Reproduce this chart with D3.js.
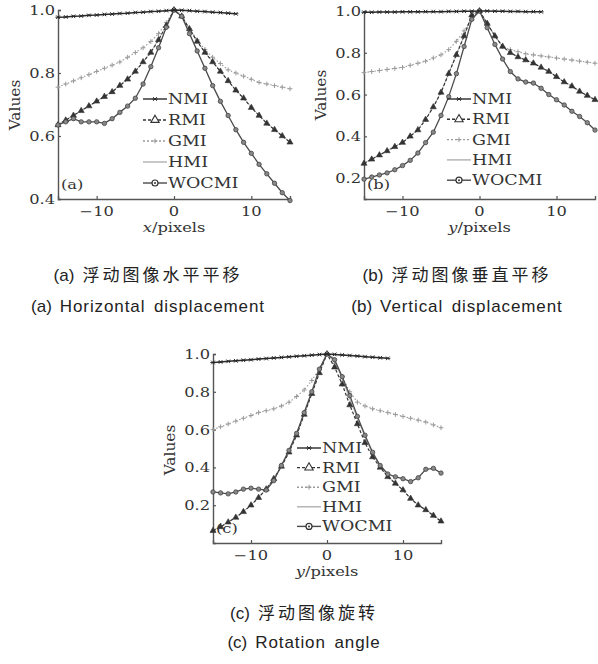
<!DOCTYPE html>
<html><head><meta charset="utf-8">
<script src="https://cdn.jsdelivr.net/npm/d3@7"></script>
<style>
html,body{margin:0;padding:0;background:#fff;}
svg text{font-family:"DejaVu Serif","Liberation Serif",serif;fill:#333;}
svg text.cap{font-family:"Liberation Sans","Noto Sans CJK SC",sans-serif;fill:#222;}
</style></head>
<body>
<svg id="chart" width="598" height="664"></svg>
<script>
// ---------- data ----------
const xValues = d3.range(-15, 16);          // -15 .. 15
const xValuesNMI = d3.range(-15, 9);        // NMI curves stop at 8
const seriesNames = ["NMI", "RMI", "GMI", "HMI", "WOCMI"];
const xTicks = [-10, 0, 10];

// (a) horizontal displacement
const aNMI = [0.977,0.978,0.98,0.981,0.983,0.984,0.986,0.987,0.989,0.99,0.992,0.993,0.995,0.996,0.998,1.0,
              0.999,0.998,0.996,0.995,0.993,0.992,0.99,0.988];
const aRMI = [0.635,0.65,0.665,0.68,0.695,0.71,0.725,0.74,0.76,0.78,0.805,0.835,0.865,0.905,0.95,1.0,
              0.98,0.94,0.9,0.865,0.835,0.805,0.775,0.745,0.72,0.69,0.665,0.64,0.62,0.6,0.58];
const aGMI = [0.755,0.765,0.775,0.785,0.795,0.805,0.815,0.825,0.835,0.85,0.865,0.88,0.9,0.925,0.96,1.0,
              0.98,0.94,0.905,0.875,0.85,0.83,0.81,0.8,0.79,0.78,0.77,0.765,0.76,0.755,0.75];
const aHMI = [0.637,0.652,0.666,0.681,0.696,0.711,0.726,0.742,0.761,0.782,0.806,0.836,0.867,0.906,0.951,1.0,
              0.981,0.941,0.901,0.866,0.836,0.806,0.776,0.746,0.721,0.691,0.666,0.641,0.621,0.601,0.581];
const aWOCMI = [0.635,0.645,0.655,0.645,0.645,0.645,0.64,0.655,0.675,0.695,0.72,0.765,0.82,0.88,0.945,1.0,
              0.98,0.925,0.87,0.815,0.76,0.71,0.665,0.62,0.58,0.545,0.51,0.48,0.45,0.42,0.395];
const aYTicks = [0.4, 0.6, 0.8, 1.0];

// (b) vertical displacement
const bNMI = [0.994,0.994,0.995,0.995,0.995,0.996,0.996,0.996,0.997,0.997,0.997,0.998,0.998,0.999,0.999,1.0,
              1.0,0.999,0.999,0.998,0.998,0.997,0.997,0.996];
const bRMI = [0.27,0.29,0.31,0.33,0.35,0.37,0.4,0.43,0.48,0.54,0.61,0.7,0.79,0.88,0.98,1.0,
              0.94,0.88,0.83,0.8,0.78,0.765,0.75,0.73,0.71,0.685,0.66,0.64,0.615,0.595,0.575];
const bGMI = [0.705,0.71,0.715,0.72,0.725,0.73,0.74,0.75,0.76,0.775,0.79,0.815,0.855,0.905,0.96,1.0,
              0.94,0.88,0.83,0.815,0.805,0.795,0.79,0.785,0.78,0.775,0.77,0.765,0.76,0.755,0.75];
const bHMI = [0.272,0.292,0.312,0.332,0.352,0.372,0.402,0.432,0.482,0.542,0.612,0.702,0.792,0.882,0.98,1.0,
              0.941,0.881,0.831,0.801,0.781,0.766,0.751,0.731,0.711,0.686,0.661,0.641,0.616,0.596,0.576];
const bWOCMI = [0.195,0.205,0.215,0.225,0.24,0.26,0.285,0.32,0.37,0.42,0.5,0.59,0.7,0.83,0.96,1.0,
              0.92,0.84,0.77,0.71,0.675,0.66,0.655,0.63,0.6,0.575,0.55,0.52,0.495,0.465,0.43];
const bYTicks = [0.2, 0.4, 0.6, 0.8, 1.0];

// (c) rotation
const cNMI = [0.955,0.958,0.961,0.964,0.967,0.97,0.973,0.976,0.979,0.982,0.985,0.988,0.991,0.994,0.997,1.0,
              0.998,0.995,0.992,0.989,0.986,0.983,0.98,0.977];
const cRMI = [0.065,0.085,0.11,0.135,0.165,0.2,0.24,0.285,0.34,0.405,0.48,0.57,0.68,0.79,0.9,1.0,
              0.93,0.84,0.73,0.63,0.53,0.455,0.4,0.35,0.315,0.28,0.235,0.2,0.175,0.145,0.115];
const cGMI = [0.6,0.615,0.63,0.645,0.66,0.675,0.69,0.7,0.71,0.725,0.745,0.775,0.81,0.86,0.92,1.0,
              0.95,0.88,0.8,0.745,0.725,0.71,0.7,0.69,0.68,0.67,0.66,0.65,0.64,0.625,0.61];
const cHMI = [0.067,0.087,0.112,0.137,0.167,0.202,0.242,0.287,0.342,0.407,0.482,0.572,0.682,0.792,0.902,1.0,
              0.96,0.87,0.76,0.66,0.56,0.47,0.405,0.352,0.317,0.282,0.237,0.202,0.177,0.147,0.117];
const cWOCMI = [0.27,0.265,0.26,0.27,0.285,0.29,0.285,0.28,0.33,0.41,0.49,0.58,0.69,0.8,0.92,1.0,
              0.97,0.88,0.78,0.67,0.57,0.48,0.41,0.365,0.35,0.34,0.325,0.345,0.39,0.395,0.37];
const cYTicks = [0.2, 0.4, 0.6, 0.8, 1.0];

const captionTags = ["(a)", "(b)", "(c)"];
const captionsCN = ["浮动图像水平平移", "浮动图像垂直平移", "浮动图像旋转"];
const captionsEN = ["Horizontal displacement", "Vertical displacement", "Rotation angle"];
const panelTags = ["(a)", "(b)", "(c)"];
const xTitles = ["x", "y", "y"];

// ---------- drawing ----------
const svg = d3.select("#chart");
const SX = 1.25; // horizontal stretch of text in the reference

function stext(g, x, y, str, size, anchor) {
  return g.append("text")
    .attr("transform", `translate(${x},${y}) scale(${SX},1)`)
    .attr("font-size", size)
    .attr("text-anchor", anchor || "start")
    .text(str);
}

const styles = {
  NMI:   {stroke:"#2a2a2a", width:1.5, dash:null},
  RMI:   {stroke:"#333", width:1.2, dash:"3,2"},
  GMI:   {stroke:"#9a9a9a", width:1.1, dash:"1.5,2"},
  HMI:   {stroke:"#b5b5b5", width:1.0, dash:null},
  WOCMI: {stroke:"#4a4a4a", width:1.3, dash:null}
};

function marker(g, name, cx, cy) {
  if (name === "NMI") {
    const s = 2.6;
    g.append("path").attr("d", `M${cx-s},${cy}H${cx+s}M${cx-s*0.7},${cy-s*0.7}L${cx+s*0.7},${cy+s*0.7}M${cx-s*0.7},${cy+s*0.7}L${cx+s*0.7},${cy-s*0.7}`)
      .attr("stroke", "#2a2a2a").attr("stroke-width", 1).attr("fill", "none");
  } else if (name === "RMI") {
    g.append("path").attr("d", d3.symbol(d3.symbolTriangle, 16)())
      .attr("transform", `translate(${cx},${cy})`).attr("fill", "#333").attr("stroke", "#333").attr("stroke-width", 0.6);
  } else if (name === "GMI") {
    const s = 2.4;
    g.append("path").attr("d", `M${cx-s},${cy}H${cx+s}M${cx},${cy-s}V${cy+s}`)
      .attr("stroke", "#9a9a9a").attr("stroke-width", 1).attr("fill", "none");
  } else if (name === "WOCMI") {
    g.append("circle").attr("cx", cx).attr("cy", cy).attr("r", 2.2)
      .attr("fill", "#888").attr("stroke", "#444").attr("stroke-width", 0.8);
  }
}

function legendMarker(g, name, cx, cy) {
  if (name === "RMI") {
    g.append("path").attr("d", d3.symbol(d3.symbolTriangle, 30)())
      .attr("transform", `translate(${cx},${cy})`).attr("fill", "#fff").attr("stroke", "#333").attr("stroke-width", 1.1);
  } else if (name === "WOCMI") {
    g.append("circle").attr("cx", cx).attr("cy", cy).attr("r", 3)
      .attr("fill", "#fff").attr("stroke", "#333").attr("stroke-width", 1.2);
    g.append("circle").attr("cx", cx).attr("cy", cy).attr("r", 1).attr("fill", "#333");
  } else {
    marker(g, name, cx, cy);
  }
}

function panel(cfg) {
  const g = svg.append("g");
  const x = d3.scaleLinear().domain([-15, 15]).range([cfg.x0, cfg.x1]);
  const y = d3.scaleLinear().domain(cfg.yDomain).range([cfg.yb, cfg.yt]);

  // axes (left + bottom, ticks inward)
  const xa = g.append("g").attr("transform", `translate(0,${cfg.yb})`)
    .call(d3.axisBottom(x).tickValues(xTicks).tickSize(-3).tickFormat(d => ""));
  const ya = g.append("g").attr("transform", `translate(${cfg.x0},0)`)
    .call(d3.axisLeft(y).tickValues(cfg.yTicks).tickSize(-3).tickFormat(d => ""));
  [xa, ya].forEach(a => {
    a.select(".domain").attr("stroke", "#555").attr("stroke-width", 1.4);
    a.selectAll(".tick line").attr("stroke", "#555").attr("stroke-width", 1.2);
  });
  xTicks.forEach(t => stext(g, x(t), cfg.yb + 17, t < 0 ? "\u2212" + Math.abs(t) : String(t), 13, "middle"));
  cfg.yTicks.forEach(t => stext(g, cfg.x0 - 3, y(t) + 5, t.toFixed(1), 13, "end"));

  // axis titles
  const xt = g.append("text").attr("transform", `translate(${(cfg.x0 + cfg.x1) / 2},${cfg.yb + 33}) scale(${SX},1)`)
    .attr("font-size", 13).attr("text-anchor", "middle");
  xt.append("tspan").attr("font-style", "italic").text(cfg.xTitle);
  xt.append("tspan").text("/pixels");
  g.append("text").attr("transform", `translate(${cfg.x0 - 38},${cfg.yTitleY}) rotate(-90) scale(${1.1},1)`)
    .attr("font-size", 14).attr("text-anchor", "middle").text("Values");

  // series
  const order = ["HMI", "GMI", "RMI", "WOCMI", "NMI"];
  order.forEach(name => {
    const vals = cfg.data[name];
    const xs = name === "NMI" ? xValuesNMI : xValues;
    const pts = vals.map((v, i) => [xs[i], v]);
    const st = styles[name];
    g.append("path").datum(pts)
      .attr("d", d3.line().x(d => x(d[0])).y(d => y(d[1])))
      .attr("fill", "none").attr("stroke", st.stroke).attr("stroke-width", st.width)
      .attr("stroke-dasharray", st.dash);
    if (name !== "HMI") pts.forEach(p => marker(g, name, x(p[0]), y(p[1])));
  });

  // legend
  seriesNames.forEach((name, i) => {
    const ly = cfg.legY + i * cfg.legStep;
    const st = styles[name];
    g.append("line").attr("x1", cfg.legX).attr("x2", cfg.legX + 24).attr("y1", ly).attr("y2", ly)
      .attr("stroke", name === "HMI" ? "#aaa" : st.stroke).attr("stroke-width", name === "HMI" ? 1.3 : 1.4)
      .attr("stroke-dasharray", name === "GMI" ? "2,2" : (name === "RMI" ? "3,2" : null));
    if (name !== "HMI") legendMarker(g, name, cfg.legX + 12, ly);
    stext(g, cfg.legX + 25, ly + 5, name, 14, "start");
  });
  stext(g, cfg.x0 + 3, cfg.yb - 10, cfg.tag, 13, "start");
}

panel({x0: 58, x1: 290, yt: 10, yb: 199, yDomain: [0.4, 1.0], yTicks: aYTicks, tag: panelTags[0], xTitle: xTitles[0], yTitleY: 105,
  data: {NMI: aNMI, RMI: aRMI, GMI: aGMI, HMI: aHMI, WOCMI: aWOCMI}, legX: 143, legY: 99, legStep: 21});
panel({x0: 364, x1: 595, yt: 11, yb: 199, yDomain: [0.1, 1.0], yTicks: bYTicks, tag: panelTags[1], xTitle: xTitles[1], yTitleY: 95,
  data: {NMI: bNMI, RMI: bRMI, GMI: bGMI, HMI: bHMI, WOCMI: bWOCMI}, legX: 447, legY: 99, legStep: 20.3});
panel({x0: 213, x1: 441, yt: 354, yb: 543, yDomain: [0, 1.0], yTicks: cYTicks, tag: panelTags[2], xTitle: xTitles[2], yTitleY: 450,
  data: {NMI: cNMI, RMI: cRMI, GMI: cGMI, HMI: cHMI, WOCMI: cWOCMI}, legX: 297, legY: 448, legStep: 19.6});

// captions
const capPos = [[148, 281, 312], [457, 281, 312], [304, 619, 648]];
capPos.forEach((p, i) => {
  const t1 = svg.append("text").attr("class", "cap").attr("x", p[0]).attr("y", p[1]).attr("font-size", 17)
    .attr("text-anchor", "middle");
  t1.append("tspan").text(captionTags[i]);
  t1.append("tspan").attr("dx", 8).attr("letter-spacing", 3).text(captionsCN[i]);
  const t2 = svg.append("text").attr("class", "cap").attr("x", p[0]).attr("y", p[2]).attr("font-size", 17)
    .attr("text-anchor", "middle");
  t2.append("tspan").text(captionTags[i]);
  t2.append("tspan").attr("dx", 8).attr("letter-spacing", 0.9).attr("word-spacing", 3).text(captionsEN[i]);
});
</script>
</body></html>
